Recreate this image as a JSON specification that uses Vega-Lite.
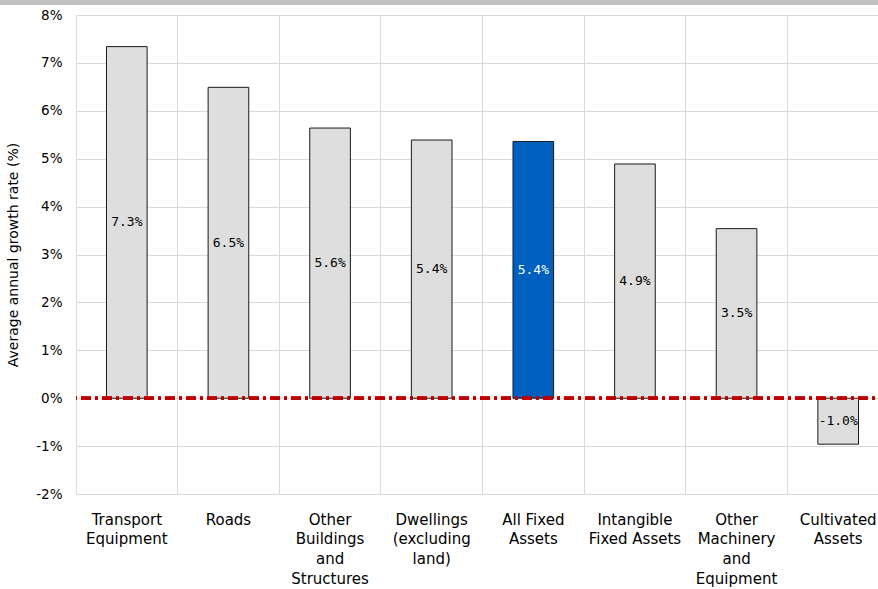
{
  "$schema": "https://vega.github.io/schema/vega-lite/v6.json",
  "autosize": {"type": "none"},
  "width": 813,
  "height": 479,
  "padding": {"left": 76, "top": 15, "right": -11, "bottom": 95},
  "background": "white",
  "config": {
    "view": {"stroke": null},
    "font": "DejaVu Sans",
    "locale": {"number": {"decimal": ".", "thousands": ",", "grouping": [3], "currency": ["$", ""], "minus": "-"}}
  },
  "data": {
    "values": [
      {"category": "Transport|Equipment", "growth": 0.0734},
      {"category": "Roads", "growth": 0.0649},
      {"category": "Other|Buildings|and|Structures", "growth": 0.0564},
      {"category": "Dwellings|(excluding|land)", "growth": 0.0539},
      {"category": "All Fixed|Assets", "growth": 0.0536},
      {"category": "Intangible|Fixed Assets", "growth": 0.0489},
      {"category": "Other|Machinery|and|Equipment", "growth": 0.0354},
      {"category": "Cultivated|Assets", "growth": -0.0096}
    ]
  },
  "layer": [
    {
      "data": {"values": [{"band": "header"}]},
      "mark": {"type": "rect", "color": "#bfbfbf", "clip": false},
      "encoding": {
        "x": {"datum": -0.2, "type": "quantitative", "scale": {"domain": [0, 1]}, "axis": null},
        "x2": {"datum": 1.2},
        "y": {"datum": 0.0832, "type": "quantitative"},
        "y2": {"datum": 0.0821}
      }
    },
    {
      "layer": [
        {
          "mark": {"type": "bar", "width": {"band": 0.4}, "stroke": "#1a1a1a", "strokeWidth": 1},
          "encoding": {
            "x": {
              "field": "category", "type": "nominal", "sort": null,
              "scale": {"paddingInner": 0, "paddingOuter": 0},
              "axis": {
                "title": null, "labelAngle": 0, "labelExpr": "split(datum.label, '|')",
                "labelFontSize": 15, "labelColor": "#000", "labelLineHeight": 19.7,
                "labelPadding": 18, "ticks": false, "domain": false,
                "grid": true, "bandPosition": 0, "gridColor": "#d9d9d9", "gridWidth": 1
              }
            },
            "y": {
              "field": "growth", "type": "quantitative",
              "scale": {"domain": [-0.02, 0.08], "nice": false, "zero": false},
              "axis": {
                "title": "Average annual growth rate (%)",
                "values": [-0.02, -0.01, 0, 0.01, 0.02, 0.03, 0.04, 0.05, 0.06, 0.07, 0.08],
                "format": ".0%", "grid": true, "gridColor": "#d9d9d9", "ticks": false, "domain": false,
                "labelFontSize": 13.5, "labelColor": "#000", "labelPadding": 14,
                "titleFontSize": 14, "titleFontWeight": "normal", "titleColor": "#000", "titlePadding": 15
              }
            },
            "fill": {
              "condition": {"test": "datum.category === 'All Fixed|Assets'", "value": "#0060c0"},
              "value": "#dedede"
            }
          }
        },
        {
          "mark": {"type": "rule", "color": "#c00000", "strokeWidth": 3, "strokeDash": [10, 4, 3, 4]},
          "encoding": {"y": {"datum": 0, "type": "quantitative"}}
        },
        {
          "transform": [{"calculate": "datum.growth / 2", "as": "mid"}],
          "mark": {"type": "text", "font": "DejaVu Sans Mono", "fontSize": 13, "baseline": "middle", "align": "center"},
          "encoding": {
            "x": {"field": "category", "type": "nominal", "sort": null},
            "y": {"field": "mid", "type": "quantitative"},
            "text": {"field": "growth", "type": "quantitative", "format": ".1%"},
            "color": {
              "condition": {"test": "datum.category === 'All Fixed|Assets'", "value": "#ffffff"},
              "value": "#000000"
            }
          }
        }
      ]
    }
  ],
  "resolve": {"scale": {"x": "independent"}}
}
